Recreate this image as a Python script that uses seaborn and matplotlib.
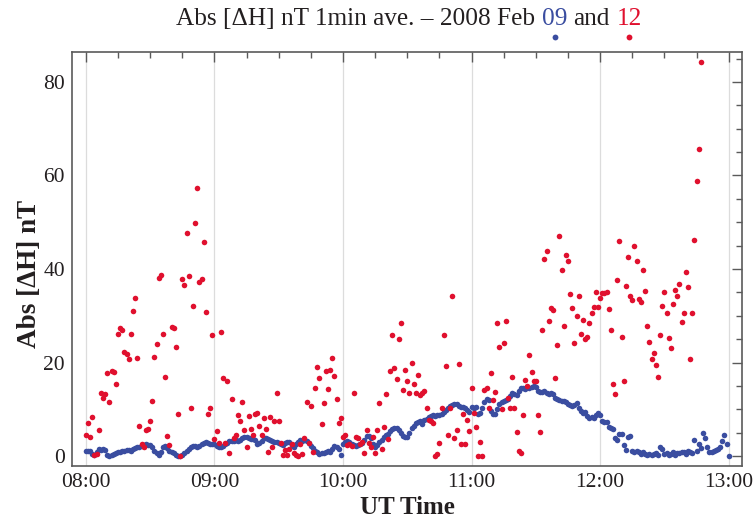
import numpy as np
import pandas as pd
import matplotlib
matplotlib.use("Agg")
import matplotlib.pyplot as plt
import seaborn as sns
from matplotlib.ticker import MultipleLocator

# Hour tick labels (x axis is minutes after 08:00 UT)
hour_labels = ["08:00", "09:00", "10:00", "11:00", "12:00", "13:00"]

# 1-minute averages of |dH| (nT), 2008 Feb 09, 08:00-13:00 UT
feb09_nT = [
    1.2, 1.1, 1.0, 0.4, 0.3, 0.8, 1.5, 1.4, 1.5, 1.3, 0.3, 0.1, 0.2, 0.5, 0.6,
    0.8, 0.9, 1.0, 1.2, 1.4, 1.3, 1.2, 1.5, 1.7, 1.9, 2.0, 2.2, 2.4, 2.5, 2.3,
    2.4, 2.0, 1.2, 0.6, 0.2, 0.8, 2.0, 2.1, 1.8, 1.2, 0.8, 0.6, 0.3, 0.1, 0.0,
    0.3, 0.6, 1.0, 1.5, 2.0, 2.1, 2.2, 2.0, 2.1, 2.5, 2.8, 3.0, 2.9, 2.7, 2.6,
    2.5, 2.2, 2.0, 2.0, 2.1, 2.5, 2.9, 3.2, 3.3, 3.2, 3.4, 3.3, 3.5, 3.8, 4.0,
    4.1, 3.9, 3.7, 3.7, 3.5, 2.6, 2.8, 3.3, 3.8, 3.9, 3.7, 3.4, 3.2, 3.0, 3.1,
    2.8, 2.6, 2.3, 2.8, 3.1, 3.0, 2.3, 1.9, 2.5, 3.1, 3.4, 3.3, 3.5, 3.2, 2.8,
    2.1, 1.8, 1.2, 0.8, 0.5, 0.7, 0.6, 0.9, 1.0, 0.9, 1.5, 2.1, 1.9, 1.5, 0.2,
    2.6, 3.0, 3.2, 3.0, 2.6, 2.3, 2.2, 2.4, 2.6, 2.8, 3.5, 4.3, 4.4, 3.8, 2.5,
    1.9, 2.4, 3.0, 3.5, 4.0, 4.5, 4.8, 5.3, 5.8, 6.0, 6.0, 5.7, 5.0, 4.3, 4.1,
    4.2, 5.0, 6.0, 6.5, 7.0, 7.3, 7.6, 6.8, 7.7, 8.0, 8.3, 8.6, 8.8, 8.5, 8.9,
    8.8, 9.0, 9.4, 9.8, 10.3, 10.7, 11.0, 11.2, 11.1, 10.8, 10.6, 10.6, 10.4, 9.9, 9.5,
    10.6, 10.4, 10.6, 9.0, 9.2, 10.2, 11.5, 12.3, 12.0, 9.6, 9.1, 9.0, 10.0, 11.2, 11.6,
    11.9, 12.0, 12.3, 12.9, 13.4, 13.3, 13.1, 14.0, 14.5, 14.6, 14.3, 14.7, 14.5, 14.8, 14.9,
    14.7, 14.0, 13.7, 13.8, 14.0, 13.5, 13.2, 13.4, 13.3, 12.5, 12.2, 12.0, 11.8, 11.9, 11.5,
    11.1, 10.9, 10.8, 11.0, 11.3, 10.2, 9.6, 9.3, 9.5, 8.6, 8.2, 8.3, 8.2, 8.7, 9.2,
    8.8, 7.6, 7.4, 7.2, 6.2, 6.0, 5.9, 3.8, 3.4, 4.8, 4.7, 2.4, 1.4, 4.1, 4.4,
    1.0, 0.9, 1.2, 0.8, 0.5,
    0.9, 0.4, 0.3, 0.5, 0.2, 0.4, 0.6, 0.3, 2.0, 1.6,
    0.4, 0.6, 0.3, 0.5, 0.8, 0.3, 0.7, 0.6, 0.9, 0.8,
    0.5, 1.0, 0.9, 0.6, 3.4, 1.2, 2.7, 1.8, 5.0, 3.8,
    1.9, 0.8, 0.9, 1.1, 1.3, 1.6, 2.0, 3.3, 4.5, 2.5,
    0.0,
]

# 1-minute averages of |dH| (nT), 2008 Feb 12, from 08:00 UT
feb12_nT = [
    4.6, 7.1, 4.0, 8.3, 0.2, 0.4, 5.6, 13.4, 12.5, 13.2, 17.7, 11.5, 18.2, 18.0, 15.5,
    26.2, 27.5, 26.9, 22.3, 21.8, 20.7, 26.2, 31.0, 33.9, 21.0, 6.4, 2.5, 2.0, 5.7, 5.9,
    7.5, 11.8, 21.1, 23.9, 38.0, 38.8, 26.2, 17.0, 4.3, 2.4, 27.7, 27.5, 23.4, 9.0, 0.0,
    37.8, 36.6, 47.8, 38.5, 10.2, 32.1, 49.8, 57.4, 37.3, 37.8, 45.7, 30.9, 9.0, 10.2, 25.9,
    3.7, 5.3, 2.9, 26.6, 16.8, 2.9, 16.0, 0.7, 12.2, 3.8, 4.5, 8.8, 7.5, 11.6, 5.6,
    1.9, 8.6, 5.9, 4.5, 9.1, 9.3, 6.5, 4.5, 8.1, 5.9, 0.9, 8.3, 2.0, 7.6, 13.4,
    7.6, 2.9, 0.2, 1.3, 0.2, 1.6, 2.7, 0.6, 0.2, 0.0, 2.7, 0.4, 3.8, 11.5, 2.9,
    10.7, 0.9, 14.5, 19.0, 16.8, 6.8, 11.3, 18.2, 14.3, 18.5, 20.9, 17.2, 12.3, 7.0, 8.1,
    4.1, 4.5, 2.4, 2.7, 2.1, 13.4, 4.1, 3.9, 2.7, 3.1, 0.7, 5.7, 2.9, 2.0, 4.0,
    0.7, 5.7, 11.4, 1.6, 6.3, 13.3, 3.6, 18.2, 25.9, 18.9, 16.6, 25.0, 28.4, 14.1, 18.4,
    16.0, 13.5, 20.0, 15.5, 13.4, 17.3, 13.0, 13.5, 14.0, 10.3, 7.7, 7.6, 7.0, 0.0, 0.4,
    2.9, 10.2, 26.0, 19.2, 4.5, 10.2, 34.2, 3.9, 5.7, 19.8, 2.7, 9.0, 2.7, 7.8, 5.4,
    14.5, 9.3, 6.3, 0.0, 3.0, 0.1, 14.1, 14.5, 10.4, 17.7, 12.0, 13.8, 28.4, 23.4, 10.0,
    24.1, 28.9, 12.5, 10.3, 17.0, 10.2, 5.1, 1.1, 0.7, 8.8, 16.3, 15.0, 21.6, 18.0, 16.1,
    16.1, 8.9, 5.2, 26.9, 42.1, 43.9, 29.0, 31.6, 31.2, 16.8, 23.7, 47.1, 39.8, 27.9, 42.9,
    41.8, 34.6, 31.6, 24.1, 29.9, 34.2, 26.2, 29.1, 25.0, 25.4, 28.5, 30.6, 31.8, 35.0, 31.9,
    33.8, 34.9, 34.9, 35.0, 31.5, 26.9, 15.5, 13.2, 37.7, 45.9, 25.5, 16.0, 36.3, 42.6, 34.2,
    33.3, 44.9, 41.7, 33.7, 32.9, 39.7, 35.4, 27.9, 24.4, 20.8, 22.1, 19.4, 16.9, 25.8, 32.2,
    35.2, 30.7, 25.3, 23.1, 32.6, 35.6, 34.3, 36.8, 28.6, 30.7, 39.4, 36.2, 20.8, 30.7, 46.2,
    58.9, 65.7, 84.2,
]

BLUE = "#3A4DA0"
RED = "#E0102E"
INK = "#231F20"
FRAME = "#5a5a5a"

df09 = pd.DataFrame({"minute": np.arange(len(feb09_nT)), "dH": feb09_nT})
df12 = pd.DataFrame({"minute": np.arange(len(feb12_nT)), "dH": feb12_nT})

sns.set_theme(style="white")
plt.rcParams["font.family"] = ["Liberation Serif", "DejaVu Serif"]

W, H = 754, 520
fig = plt.figure(figsize=(W / 100, H / 100), dpi=100)
ax = fig.add_axes([72 / W, 1 - 466 / H, (742 - 72) / W, (466 - 52) / H])

for hour in range(len(hour_labels)):
    ax.axvline(hour * 60, color="#dcdcdc", lw=0.9, zorder=0)

sns.scatterplot(data=df09, x="minute", y="dH", color=BLUE, s=16,
                linewidth=0, ax=ax, zorder=3)
sns.scatterplot(data=df12, x="minute", y="dH", color=RED, s=16,
                linewidth=0, ax=ax, zorder=4)

ax.set_xlim(-6.5, 306.2)
ax.set_ylim(-2.1, 86.4)
ax.set_xticks(np.arange(len(hour_labels)) * 60)
ax.set_xticklabels(hour_labels)
ax.xaxis.set_minor_locator(MultipleLocator(15))
ax.yaxis.set_major_locator(MultipleLocator(20))
ax.yaxis.set_minor_locator(MultipleLocator(5))
ax.tick_params(which="both", direction="in", top=True, right=True,
               color=FRAME, width=1.0, labelcolor=INK)
ax.tick_params(which="major", length=7, labelsize=15.5, pad=5)
ax.tick_params(which="minor", length=4.5)
for sp in ax.spines.values():
    sp.set_color(FRAME)
    sp.set_linewidth(1.2)

ax.set_xlabel("UT Time", fontsize=18, fontweight="bold", color=INK)
ax.set_ylabel("Abs [ΔH] nT", fontsize=19.5, fontweight="bold", color=INK)
# label centres placed in pixel terms of the figure
ax.xaxis.set_label_coords(0.5, (466 - 508) / (466 - 52))
ax.yaxis.set_label_coords((30 - 72) / (742 - 72), (466 - 274) / (466 - 52))
ax.xaxis.label.set_va("center")
ax.yaxis.label.set_va("center")

# Title with the two dates coloured like their series, and a marker under each
renderer = fig.canvas.get_renderer()
title_fs = 18.2
parts_full = "Abs [ΔH] nT 1min ave. – 2008 Feb 09 and 12"


def text_width(s):
    t = fig.text(0, 0, s, fontsize=title_fs)
    w = t.get_window_extent(renderer).width
    t.remove()
    return w


total_w = text_width(parts_full)
left_px = 409 - total_w / 2
base_y = 1 - 25 / H
pieces = [
    ("Abs [ΔH] nT 1min ave. – 2008 Feb", "Abs [ΔH] nT 1min ave. – 2008 Feb", INK),
    ("09", "Abs [ΔH] nT 1min ave. – 2008 Feb 09", BLUE),
    ("and", "Abs [ΔH] nT 1min ave. – 2008 Feb 09 and", INK),
    ("12", parts_full, RED),
]
for s, upto, col in pieces:
    w = text_width(s)
    x0 = left_px + text_width(upto) - w
    fig.text(x0 / W, base_y, s, fontsize=title_fs, color=col,
             ha="left", va="baseline")
    if col != INK:
        fig.lines.append(plt.Line2D([(x0 + w / 2) / W], [1 - 37 / H],
                                    transform=fig.transFigure, marker="o",
                                    markersize=4.2, color=col, lw=0,
                                    markeredgewidth=0))

fig.savefig("out.png", dpi=100)
